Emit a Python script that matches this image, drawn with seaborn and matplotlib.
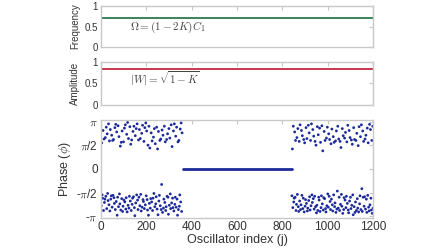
import numpy as np
import matplotlib
matplotlib.use("Agg")
import matplotlib.pyplot as plt
import seaborn as sns

# mean-field values (constant over all oscillators)
omega = 0.70          # (1 - 2K) C1
amp = 0.837           # sqrt(1 - K)
n_osc = 1200

# incoherent oscillators, left block (j = 0..358 step 2), phase in units of pi
left_idx = np.arange(0, 360, 2)
left_phase = [
    0.92, -0.78, 0.55, -0.55, -0.62, 0.81, -0.88, 0.63, -0.71, -0.64, 0.66, -0.58, 0.88, -0.84, 0.74, -0.52, -0.67, 0.95, -0.76, 0.59,
    -0.89, 0.83, -0.64, -0.57, 0.71, -0.81, 0.60, -0.56, 0.62, -0.61, -0.73, 0.87, -0.86, 0.94, -0.69, 0.78, -0.98, -0.60, 0.91, -0.80,
    0.68, -0.53, -0.74, 0.48, -0.87, 0.56, -0.63, 0.80, -0.90, -0.79, 0.57, -0.66, 0.86, -0.70, 0.93, -0.85, -0.61, 0.73, -0.91, 0.98,
    -0.77, 0.64, -0.83, -0.58, 0.89, -0.68, 0.52, -0.88, 0.61, -0.75, -0.62, 0.79, -0.59, 0.90, -0.82, -0.99, 0.70, -0.72, 0.85, -0.55,
    0.95, -0.66, -0.86, 0.61, -0.60, 0.83, -0.78, 0.64, -0.54, -0.89, 0.75, -0.81, 0.92, -0.65, -0.69, 0.58, -0.84, 0.87, -0.76, 0.97,
    -0.57, 0.80, -0.65, -0.87, 0.50, -0.98, 0.90, -0.73, 0.44, -0.83, -0.63, 0.76, -0.70, 0.59, -0.88, -0.62, 0.67, -0.52, 0.85, -0.80,
    0.53, -0.74, -0.59, 0.88, -0.85, 0.42, -0.97, 0.79, -0.68, -0.56, 0.60, -0.78, 0.63, -0.86, -0.33, 0.82, -0.92, 0.71, -0.83, -0.64,
    0.90, -0.71, 0.57, -0.88, -0.80, 0.62, -0.58, 0.74, -0.60, -0.96, 0.85, -0.77, 0.65, -0.53, -0.84, 0.93, -0.72, 0.47, -0.62, -0.82,
    0.80, -0.89, 0.95, -0.75, -0.60, 0.69, -0.81, 0.88, -0.64, -0.98, 0.57, -0.86, 0.60, -0.79, -0.55, 0.84, -0.70, 0.97, -0.90, 0.76,
]

# incoherent oscillators, right block (j = 842..1200 step 2)
right_idx = np.arange(842, 1201, 2)
right_phase = [
    -0.57, 0.42, -0.82, 0.90, -0.70, -0.62, 0.78, -0.60, 0.60, -0.88, -0.75, 0.66, -0.54, 0.85, -0.80, -0.90, 0.58, -0.68, 0.93, -0.86,
    -0.76, 0.81, -0.56, 0.70, -0.84, -0.62, 0.62, -0.91, 0.55, -0.79, -0.65, 0.87, -0.73, 0.64, -0.89, -0.83, 0.92, -0.67, 0.76, -0.59,
    -0.87, 0.60, -0.78, 0.95, -0.55, -0.71, 0.83, -0.63, 0.69, -0.85, -0.58, 0.58, -0.80, 0.50, -0.93, -0.77, 0.89, -0.88, 0.72, -0.60,
    -0.66, 0.86, -0.90, 0.56, -0.82, -0.57, 0.91, -0.74, 0.38, -0.87, -0.61, 0.79, -0.63, 0.60, -0.84, -0.91, 0.65, -0.78, 0.88, -0.53,
    -0.81, 0.74, -0.58, 0.62, -0.69, -0.86, 0.53, -0.64, 0.84, -0.76, -0.89, 0.68, -0.55, 0.56, -0.80, -0.72, 0.59, -0.92, 0.80, -0.85,
    -0.47, 0.90, -0.83, 0.63, -0.60, -0.88, 0.58, -0.75, 0.45, -0.54, -0.79, 0.85, -0.94, 0.70, -0.86, -0.61, 0.65, -0.66, 0.77, -0.82,
    -0.58, 0.57, -0.73, 0.92, -0.87, -0.93, 0.81, -0.68, 0.66, -0.60, -0.84, 0.61, -0.77, 0.52, -0.55, -0.97, 0.87, -0.80, 0.62, -0.92,
    -0.70, 0.60, -0.88, 0.75, -0.63, -0.83, 0.49, -0.91, 0.89, -0.74, -0.57, 0.68, -0.86, 0.93, -0.42, -0.90, 0.80, -0.60, 0.58, -0.79,
    -0.59, 0.63, -0.85, 0.71, -0.64, -0.92, 0.86, -0.56, 0.55, -0.81, -0.89, 0.94, -0.76, 0.83, -0.62, -0.87, 0.60, -0.94, 0.90, -0.83,
]

# coherent (synchronised) block sits at phase 0
sync_idx = [360, 842]
sync_phase = [0.0, 0.0]

sns.set_style("white")
plt.rcParams['font.family'] = ['Liberation Sans', 'DejaVu Sans']
plt.rcParams['mathtext.fontset'] = 'cm'

gray = '#c8c8c8'
txt = '#333333'
blue = '#1c2a9a'

fig = plt.figure(figsize=(4.48, 2.52), dpi=100)
ax1 = fig.add_axes([0.225, 0.813, 0.608, 0.163])
ax2 = fig.add_axes([0.225, 0.585, 0.608, 0.168])
ax3 = fig.add_axes([0.225, 0.135, 0.608, 0.39])


def style(ax, fs):
    for s in ax.spines.values():
        s.set_color(gray)
        s.set_linewidth(1.0)
    ax.tick_params(direction='in', length=3, color=gray, labelcolor=txt,
                   labelsize=fs, top=True, right=True, pad=2)


# frequency
sns.lineplot(x=[0, n_osc], y=[omega, omega], color='#2a7a4e', lw=1.3, ax=ax1)
ax1.set_xlim(0, n_osc)
ax1.set_ylim(0, 1)
ax1.set_yticks([0, 0.5, 1])
ax1.set_yticklabels(['0', '0.5', '1'])
ax1.set_xticks([0, 200, 400, 600, 800, 1000, 1200])
ax1.set_xticklabels([])
ax1.set_ylabel('Frequency', fontsize=7, color=txt, labelpad=3)
ax1.text(130, 0.47, r'$\Omega = (1-2K)C_1$', fontsize=8, color='#444444', va='center')
style(ax1, 7)

# amplitude
sns.lineplot(x=[0, n_osc], y=[amp, amp], color='#c02a3e', lw=1.3, ax=ax2)
ax2.set_xlim(0, n_osc)
ax2.set_ylim(0, 1)
ax2.set_yticks([0, 0.5, 1])
ax2.set_yticklabels(['0', '0.5', '1'])
ax2.set_xticks([0, 200, 400, 600, 800, 1000, 1200])
ax2.set_xticklabels([])
ax2.set_ylabel('Amplitude', fontsize=7, color=txt, labelpad=3)
ax2.text(130, 0.62, r'$|W| = \sqrt{1-K}$', fontsize=8, color='#444444', va='center')
style(ax2, 7)

# phase
sns.scatterplot(x=left_idx, y=np.array(left_phase) * np.pi, s=4, color=blue,
                edgecolor='none', ax=ax3)
sns.scatterplot(x=right_idx, y=np.array(right_phase) * np.pi, s=4, color=blue,
                edgecolor='none', ax=ax3)
sns.lineplot(x=sync_idx, y=sync_phase, color=blue, lw=2.0, ax=ax3)
ax3.set_xlim(0, n_osc)
ax3.set_ylim(-np.pi - 0.12, np.pi + 0.12)
ax3.set_yticks([-np.pi, -np.pi / 2, 0, np.pi / 2, np.pi])
ax3.set_yticklabels([r'-$\pi$', r'-$\pi$/2', '0', r'$\pi$/2', r'$\pi$'])
ax3.set_xticks([0, 200, 400, 600, 800, 1000, 1200])
ax3.set_xlabel('Oscillator index (j)', fontsize=9, color=txt, labelpad=1)
ax3.set_ylabel(r'Phase ($\phi$)', fontsize=9, color=txt, labelpad=2)
style(ax3, 8.5)

fig.savefig('out.png', dpi=100)
